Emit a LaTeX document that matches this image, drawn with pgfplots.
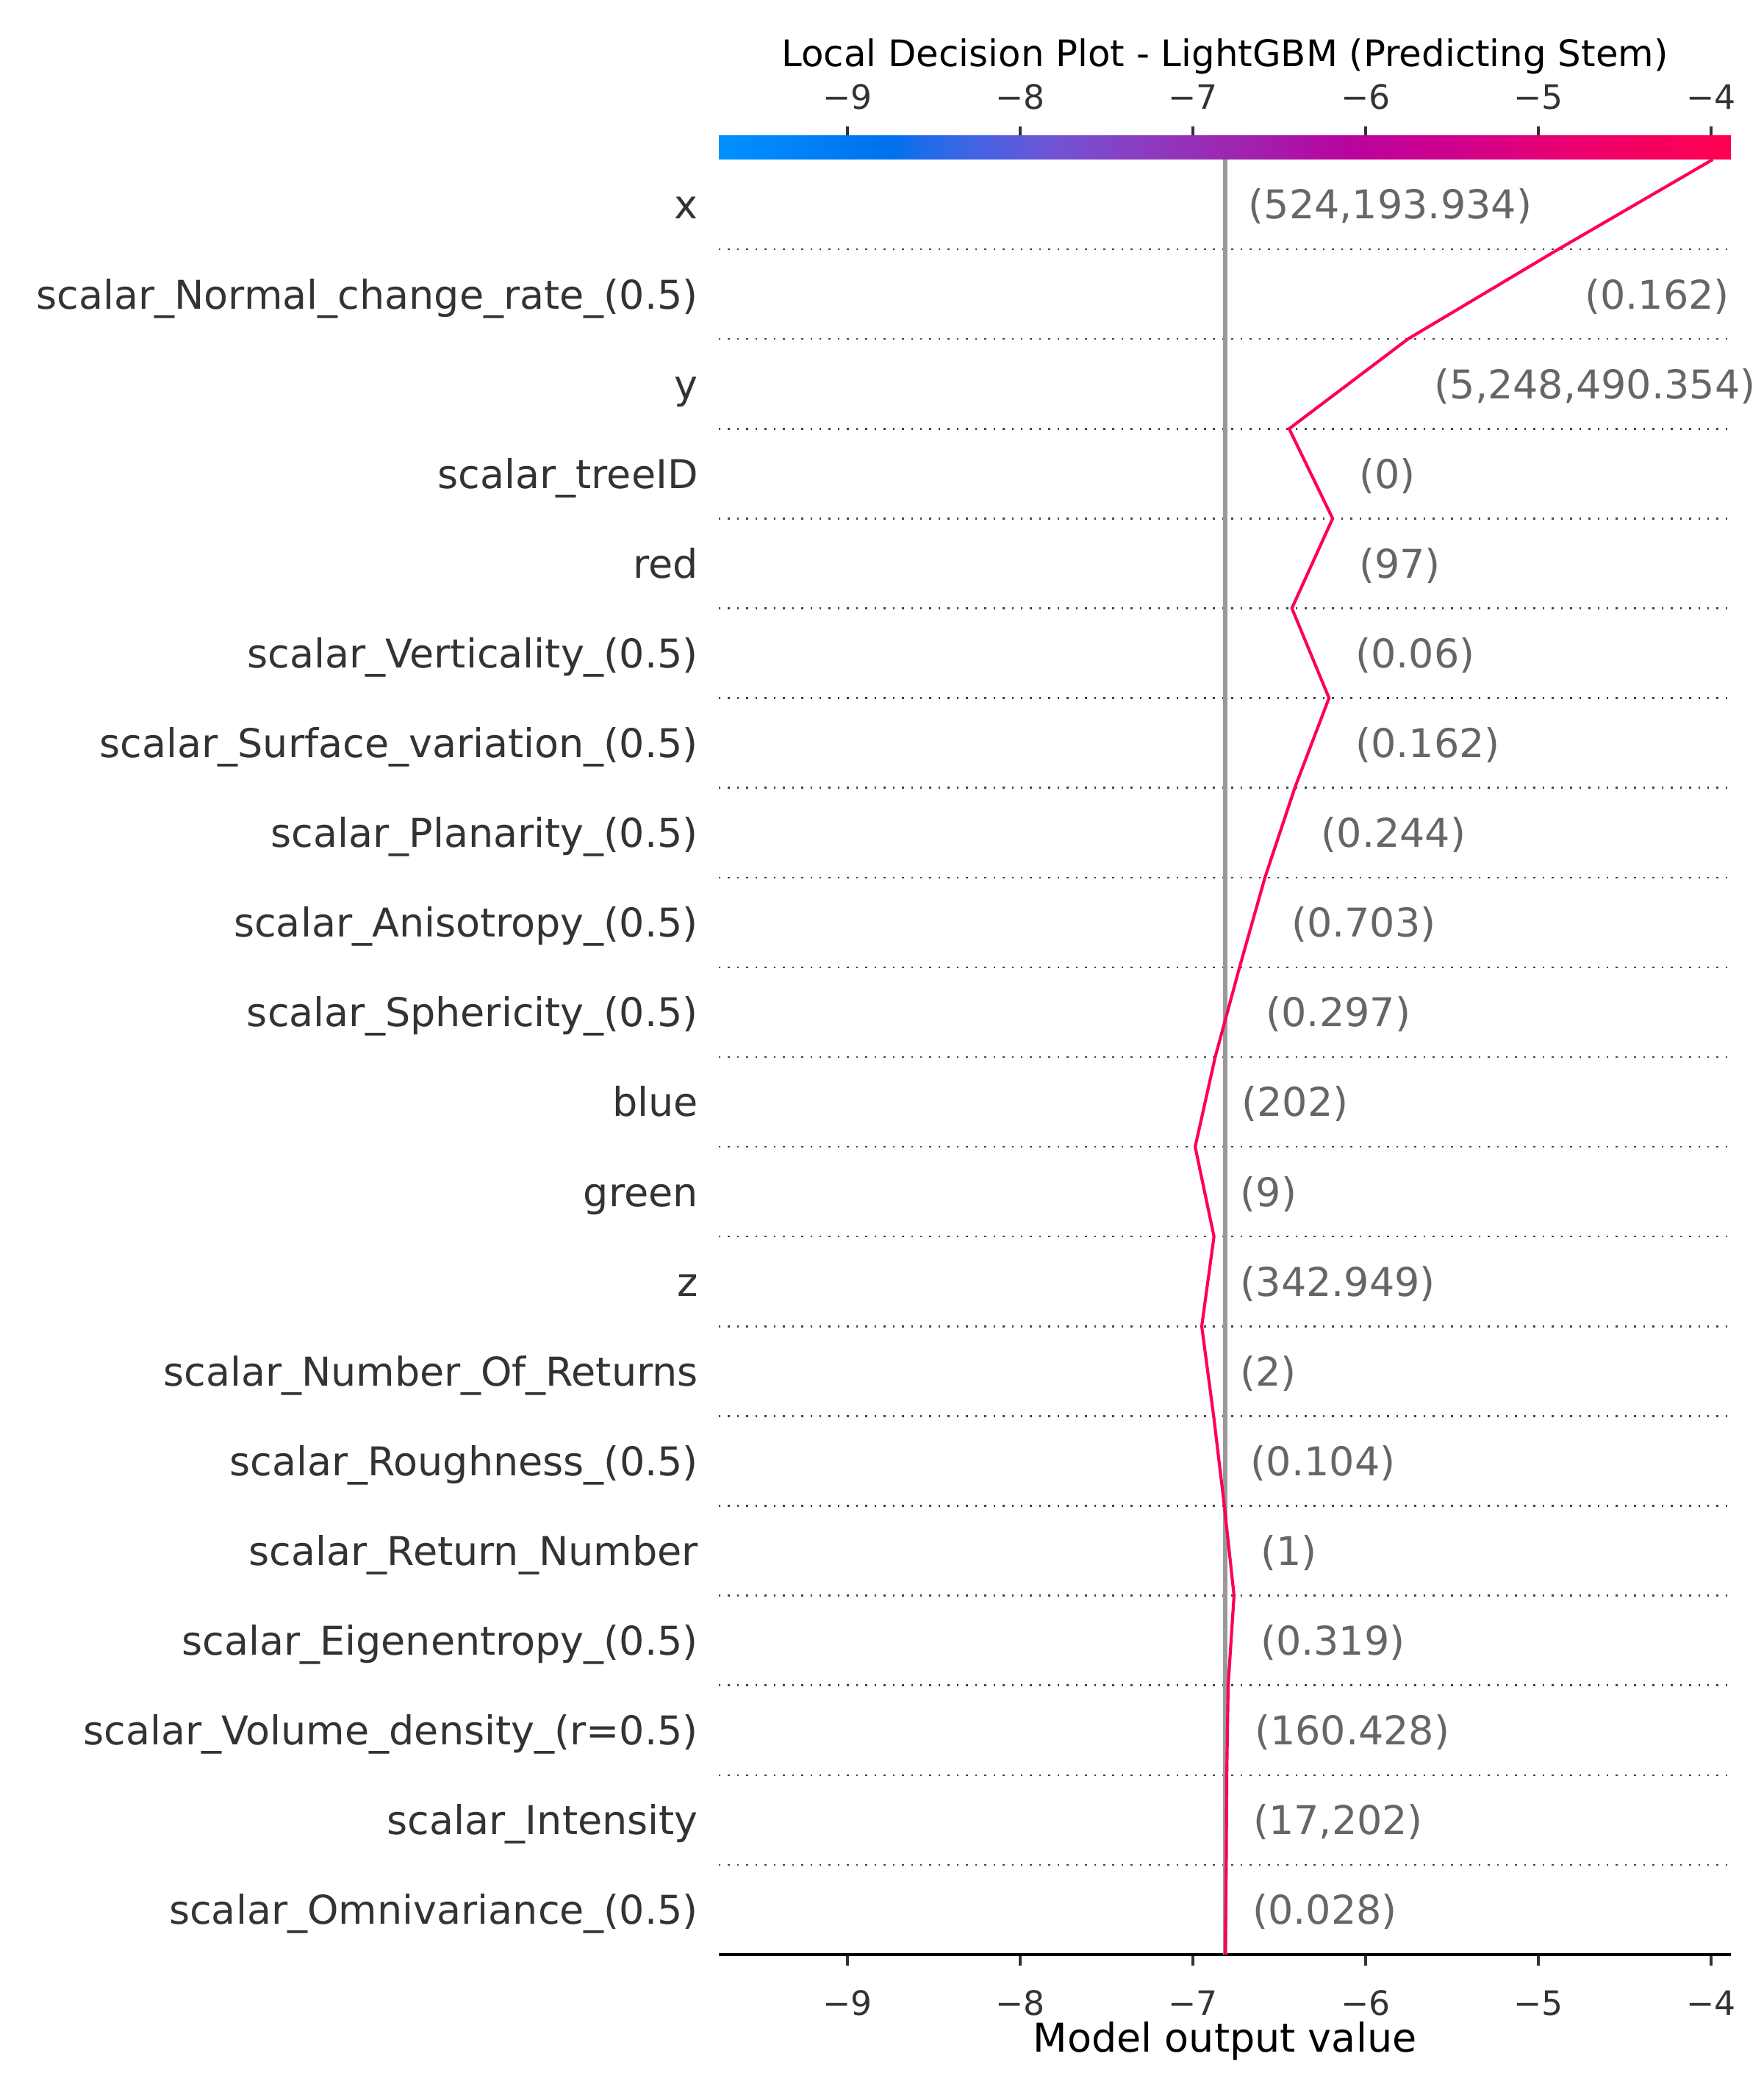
\documentclass[border=0pt]{standalone}
\usepackage{pgfplots}
\pgfplotsset{compat=1.18}
\usepackage{fontspec}
\setmainfont{DejaVu Sans}
\definecolor{shapred}{RGB}{255,0,82}
\definecolor{basegray}{HTML}{999999}
\definecolor{labgray}{HTML}{333333}
\definecolor{valgray}{HTML}{666666}
\definecolor{gridgray}{HTML}{444444}
\definecolor{cba}{RGB}{0,145,255}
\definecolor{cbb}{RGB}{0,113,238}
\definecolor{cbc}{RGB}{30,108,235}
\definecolor{cbd}{RGB}{64,100,228}
\definecolor{cbe}{RGB}{112,84,212}
\definecolor{cbf}{RGB}{140,60,192}
\definecolor{cbg}{RGB}{160,34,174}
\definecolor{cbh}{RGB}{184,4,158}
\definecolor{cbi}{RGB}{206,0,142}
\definecolor{cbj}{RGB}{236,0,112}
\definecolor{cbk}{RGB}{255,0,78}
\pgfdeclarehorizontalshading{shapcb}{100bp}{color(0bp)=(cba); color(25bp)=(cba); color(33.5bp)=(cbb); color(35bp)=(cbc); color(37.5bp)=(cbd); color(41.5bp)=(cbe); color(46bp)=(cbf); color(51bp)=(cbg); color(56bp)=(cbh); color(61bp)=(cbi); color(67.5bp)=(cbj); color(75bp)=(cbk); color(100bp)=(cbk)}
\newcommand{\fthirteen}{\fontsize{13pt}{15.6pt}\selectfont}
\newcommand{\feleven}{\fontsize{11pt}{13.2pt}\selectfont}
\newcommand{\ftwelve}{\fontsize{12pt}{14.4pt}\selectfont}
\begin{document}
\begin{tikzpicture}
\path[use as bounding box] (0,0) rectangle (8in,9.5in);
% colorbar
\begin{axis}[
  at={(3.26in,8.777in)}, anchor=south west, scale only axis,
  width=4.59in, height=0.107in,
  xmin=-9.745, xmax=-3.885, ymin=0, ymax=1,
  axis x line*=top, hide y axis,
  x axis line style={black, line width=0.5pt, -},
  xtick={-9,-8,-7,-6,-5,-4},
  xticklabels={−9,−8,−7,−6,−5,−4},
  tick align=outside, major tick length=3.1pt,
  xtick style={labgray, line width=0.8pt},
  xticklabel style={anchor=base, inner sep=0pt, yshift=5.7pt, font=\feleven, text=labgray},
  clip=false,
]
\path[shading=shapcb] (rel axis cs:0,0) rectangle (rel axis cs:1,1);
\node[anchor=base, inner sep=0pt, font=\ftwelve] at (rel axis cs:0.5,1) [yshift=22.6pt] {Local Decision Plot - LightGBM (Predicting Stem)};
\end{axis}
% main axis
\begin{axis}[
  at={(3.26in,0.6367in)}, anchor=south west, scale only axis,
  width=4.59in, height=8.14in,
  xmin=-9.745, xmax=-3.885, ymin=-0.5, ymax=19.5,
  axis x line*=bottom, axis y line*=left,
  x axis line style={black, line width=0.8pt, -},
  y axis line style={draw=none},
  xtick={-9,-8,-7,-6,-5,-4},
  xticklabels={−9,−8,−7,−6,−5,−4},
  tick align=outside, major tick length=3.5pt,
  xtick style={labgray, line width=0.8pt},
  ytick style={draw=none},
  xticklabel style={anchor=base, inner sep=0pt, yshift=-16.3pt, font=\feleven, text=labgray},
  ytick={0,...,19},
  yticklabels={
    {scalar\_Omnivariance\_(0.5)},
    {scalar\_Intensity},
    {scalar\_Volume\_density\_(r=0.5)},
    {scalar\_Eigenentropy\_(0.5)},
    {scalar\_Return\_Number},
    {scalar\_Roughness\_(0.5)},
    {scalar\_Number\_Of\_Returns},
    {z},
    {green},
    {blue},
    {scalar\_Sphericity\_(0.5)},
    {scalar\_Anisotropy\_(0.5)},
    {scalar\_Planarity\_(0.5)},
    {scalar\_Surface\_variation\_(0.5)},
    {scalar\_Verticality\_(0.5)},
    {red},
    {scalar\_treeID},
    {y},
    {scalar\_Normal\_change\_rate\_(0.5)},
    {x}},
  yticklabel style={anchor=base east, inner sep=0pt, xshift=-3.1pt, yshift=-4.8pt, font=\fthirteen, text=labgray},
  minor ytick={0.5,1.5,...,18.5},
  minor tick length=0pt,
  yminorgrids=true,
  minor grid style={gridgray, line width=0.6pt, dash pattern=on 0.6pt off 2.4pt},
  xlabel={Model output value},
  xlabel style={at={(axis description cs:0.5,0)}, anchor=base, inner sep=0pt, yshift=-31.9pt, font=\fthirteen, text=black},
  clip=false,
]
\addplot[basegray, line width=1.4pt] coordinates {(-6.813,-0.5) (-6.813,19.5)};
\addplot[shapred, line width=1pt, line join=miter] table {
x y
-6.813 -0.5
-6.807 0.5
-6.804 1.5
-6.796 2.5
-6.762 3.5
-6.818 4.5
-6.880 5.5
-6.949 6.5
-6.878 7.5
-6.987 8.5
-6.871 9.5
-6.730 10.5
-6.583 11.5
-6.410 12.5
-6.212 13.5
-6.427 14.5
-6.191 15.5
-6.443 16.5
-5.755 17.5
-4.884 18.5
-3.990 19.5
};
\addplot[draw=none, point meta=explicit symbolic, nodes near coords,
  nodes near coords style={anchor=base west, inner sep=0pt, yshift=-4.8pt, font=\fthirteen, text=valgray}]
  table[meta=lab] {
x y lab
-6.657 0 (0.028)
-6.654 1 (17,202)
-6.646 2 (160.428)
-6.612 3 (0.319)
-6.612 4 (1)
-6.668 5 (0.104)
-6.730 6 (2)
-6.728 7 (342.949)
-6.728 8 (9)
-6.721 9 (202)
-6.580 10 (0.297)
-6.433 11 (0.703)
-6.260 12 (0.244)
-6.062 13 (0.162)
-6.062 14 (0.06)
-6.041 15 (97)
-6.041 16 (0)
-5.605 17 (5,248,490.354)
-4.734 18 (0.162)
};
\addplot[draw=none, point meta=explicit symbolic, nodes near coords,
  nodes near coords style={anchor=base east, inner sep=0pt, yshift=-4.8pt, font=\fthirteen, text=valgray}]
  table[meta=lab] {
x y lab
-5.034 19 (524,193.934)
};
\end{axis}
\end{tikzpicture}
\end{document}
